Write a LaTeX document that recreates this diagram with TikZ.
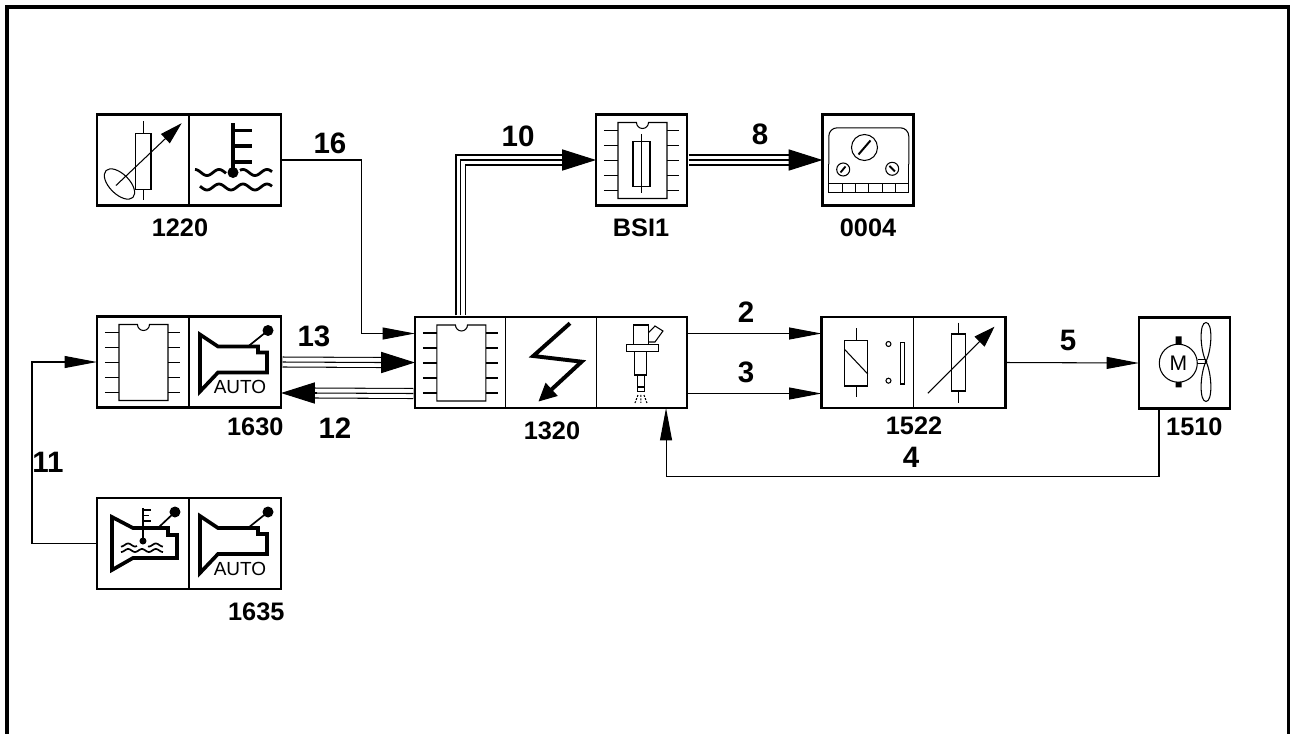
\documentclass[tikz,border=0pt]{standalone}
\usepackage{fontspec}
\setmainfont{Liberation Sans}
\usetikzlibrary{arrows.meta,calc}

\tikzset{
  box/.style={draw, line width=2pt, inner sep=0pt, outer sep=0pt,
    minimum height=2.275cm},
  tag/.style={inner sep=0pt, font=\bfseries\fontsize{18}{20}\selectfont},
  wire/.style={inner sep=0pt, font=\bfseries\fontsize{21}{24}\selectfont},
  sig/.style={-{Triangle[length=23pt,width=8.5pt]}},
  bus/.style={draw=white, line width=6.35pt, line join=miter,
    preaction={draw=black, line width=7.85pt},
    postaction={draw=black, line width=0.75pt}},
  bushead/.style={-{Triangle[length=24pt,width=15pt]}},
  % icons, drawn from the top left corner of a cell
  chip/.pic={
    \draw (22,8) -- (40.5,8) arc[start angle=180, end angle=0, radius=6]
      -- (71,8) -- (71,84) -- (22,84) -- cycle;
    \foreach \y in {16,31,46,61,76}
      \draw (8,\y) -- (22,\y) (71,\y) -- (83,\y);
  },
  fuse/.pic={
    \draw (37,26.7) rectangle (54,72);
    \draw (45.5,19.3) -- (45.5,78.7);
  },
  autohorn/.pic={
    \draw[line width=2.6pt, line join=miter] (11,18) -- (29,30) -- (69,30)
      -- (69,36) -- (78,36) -- (78,56) -- (29,56) -- (11,75) -- cycle;
    \draw[line width=1.2pt] (59,30) -- (79,14);
    \fill (79,14) circle[radius=5.5];
    \node[inner sep=0pt, font=\fontsize{13.5}{14}\selectfont] (-auto)
      at (51,70.5) {AUTO};
  },
  thermohorn/.pic={
    \draw[line width=2.6pt, line join=miter] (15,19) -- (36,30) -- (71,30)
      -- (71,37) -- (80,37) -- (80,60) -- (36,60) -- (15,72) -- cycle;
    \draw[line width=1.2pt] (61,30) -- (78,14);
    \fill (78,14) circle[radius=5.5];
    \draw[line width=1.4pt] (46,10) -- (46,42);
    \draw[line width=1.2pt] (46,12) -- (54,12) (46,17.5) -- (52,17.5)
      (46,23) -- (54,23);
    \fill (46,43) circle[radius=3.5];
    \draw[line width=1.2pt] plot[domain=24:40, samples=20, smooth] (\x,{47-1.5*sin(26*\x)});
    \draw[line width=1.2pt] plot[domain=51:66, samples=20, smooth] (\x,{47-1.5*sin(26*\x)});
    \draw[line width=1.2pt] plot[domain=24:66, samples=40, smooth] (\x,{52.5-1.5*sin(26*\x)});
  },
  coolant/.pic={
    \draw[line width=2.6pt] (44,9) -- (44,58);
    \draw[line width=2.2pt] (44,16) -- (62.5,16) (44,31.5) -- (62.5,31.5)
      (44,47.5) -- (62.5,47.5);
    \fill (44,58) circle[radius=5.5];
    \draw[line width=2pt] plot[domain=6:37, samples=30, smooth] (\x,{58-3*sin(15*\x)});
    \draw[line width=2pt] plot[domain=51:83, samples=30, smooth] (\x,{58-3*sin(15*\x)});
    \draw[line width=2pt] plot[domain=11:83, samples=50, smooth] (\x,{72.5-3*sin(15*\x)});
  },
  potsensor/.pic={
    \draw (38.7,18.7) rectangle (54,75.3);
    \draw (46.3,6.7) -- (46.3,18.7) (46.3,75.3) -- (46.3,86);
    \draw[rotate around={-45:(22.5,69.5)}] (22.5,69.5)
      ellipse[x radius=19, y radius=10];
    \draw[-{Triangle[length=16pt,width=9pt]}] (19,71) -- (84.7,8.7);
  },
  dashboard/.pic={
    \draw[rounded corners=6pt] (6.3,50) -- (6.3,13.3) -- (86.3,13.3) -- (86.3,50);
    \draw (6.3,50) -- (6.3,77.7) -- (86.3,77.7) -- (86.3,50);
    \draw (6.3,68.7) -- (86.3,68.7);
    \foreach \x in {19.7,33,46.3,59.7,73}
      \draw (\x,68.7) -- (\x,77.7);
    \draw (42,33) circle[radius=13];
    \draw[line width=1.4pt] (36,40) -- (48,26);
    \draw (20.7,55) circle[radius=6.5];
    \draw[line width=1.3pt] (18,58) -- (23,52);
    \draw (69.7,54.3) circle[radius=6.5];
    \draw[line width=1.3pt] (67,51.5) -- (72.5,57);
  },
  relay/.pic={
    \draw (23,23.7) rectangle (46.3,69);
    \draw (23,32.3) -- (46.3,57);
    \draw (34.7,11.3) -- (34.7,23.7) (34.7,69) -- (34.7,80.3);
    \draw (67,27) circle[radius=2.5] (67,63.7) circle[radius=2.5];
    \draw (79.3,25.3) rectangle (82.7,67);
  },
  varres/.pic={
    \draw (37.7,17) rectangle (52,74);
    \draw (45,5.7) -- (45,17) (45,74) -- (45,85.7);
    \draw[-{Triangle[length=15pt,width=10pt]}] (14.3,76.3) -- (81,9.7);
  },
  fanmotor/.pic={
    \draw (39.3,45.7) circle[radius=19];
    \node[inner sep=0pt, font=\fontsize{15}{16}\selectfont] (-m) at (39.3,45.7) {M};
    \fill (36.5,19) rectangle (42.5,26.8) (36.5,64.6) rectangle (42.5,70);
    \draw (58.5,42.3) -- (67,42.3) (58.5,46.3) -- (67,46.3);
    \draw (67,44) .. controls (61,32) and (60,5) .. (67,5)
      .. controls (74,5) and (73,32) .. (67,44);
    \draw (67,44) .. controls (61,56) and (60,84) .. (67,84)
      .. controls (74,84) and (73,56) .. (67,44);
    \fill (67,44.3) circle[radius=1.5];
  },
  bolt/.pic={
    \draw[line width=2.8pt, line join=miter, -{Triangle[length=13pt,width=12pt]}]
      (64,6.3) -- (27.3,39) -- (75.7,44.7) -- (32.3,84.7);
  },
  injector/.pic={
    \draw (36.3,8) rectangle (51.3,27.3);
    \draw (51.3,16) -- (58,9) -- (66,14) -- (58,25) -- (51.3,25);
    \draw (29.7,27.3) rectangle (61.3,34.7);
    \draw (38,34.7) rectangle (49.7,58);
    \draw (40.7,58) rectangle (47.3,74.7);
    \draw (40.7,70) -- (47.3,70);
    \draw[dash pattern=on 1.4pt off 1pt] (41,78) -- (38,86) (44,78) -- (44,86)
      (47,78) -- (50,86);
  }
}

\begin{document}
\begin{tikzpicture}[x=0.025cm, y=-0.025cm, line width=0.75pt]
\fill[white] (0,0) rectangle (1290,733);
\useasboundingbox (0,0) rectangle (1290,733);
\draw[line width=2.2pt] (7,740) -- (7,7) -- (1289,7) -- (1289,740);

% boxes
\node[box, minimum width=4.6cm] (b1220) at (189,160) {};
\node[box, minimum width=4.6cm] (b1630) at (189,362) {};
\node[box, minimum width=4.6cm] (b1635) at (189,543.5) {};
\node[box, minimum width=6.8cm] (b1320) at (551,362.5) {};
\node[box, minimum width=2.275cm] (bsi) at (641.5,160) {};
\node[box, minimum width=2.275cm] (b0004) at (868,160) {};
\node[box, minimum width=4.6cm] (b1522) at (913.5,362.5) {};
\node[box, minimum width=2.275cm] (b1510) at (1184.5,363) {};

\foreach \b in {b1220,b1630,b1635,b1522}
  \draw (\b.north) -- (\b.south);
\draw ($(b1320.north west)+(91,0)$) -- ($(b1320.south west)+(91,0)$);
\draw ($(b1320.north west)+(182,0)$) -- ($(b1320.south west)+(182,0)$);

% icons
\pic (i1220a) at (b1220.north west) {potsensor};
\pic (i1220b) at (b1220.north) {coolant};
\pic (i1630a) at (b1630.north west) {chip};
\pic (i1630b) at (b1630.north) {autohorn};
\pic (i1635a) at (b1635.north west) {thermohorn};
\pic (i1635b) at (b1635.north) {autohorn};
\pic (i1320a) at (b1320.north west) {chip};
\pic (i1320b) at ($(b1320.north west)+(91,0)$) {bolt};
\pic (i1320c) at ($(b1320.north west)+(182,0)$) {injector};
\pic (ibsia) at (bsi.north west) {chip};
\pic (ibsib) at (bsi.north west) {fuse};
\pic (i0004) at (b0004.north west) {dashboard};
\pic (i1522a) at (b1522.north west) {relay};
\pic (i1522b) at (b1522.north) {varres};
\pic (i1510) at (b1510.north west) {fanmotor};

% box labels
\node[tag] (t1220) at (180,228) {1220};
\node[tag, anchor=east] (t1630) at (284,427) {1630};
\node[tag, anchor=east] (t1635) at (285,612) {1635};
\node[tag] (t1320) at (552,431) {1320};
\node[tag] (tbsi) at (641,228) {BSI1};
\node[tag] (t0004) at (868,228) {0004};
\node[tag] (t1522) at (914,426) {1522};
\node[tag, anchor=east] (t1510) at (1223,427) {1510};

% single wires
\draw[sig] (b1220.east) -| ($(b1320.west)+(-53,-29)$) -- ($(b1320.west)+(0,-29)$);
\draw[sig] ($(b1320.east)+(0,-29)$) -- ($(b1522.west)+(0,-29)$);
\draw[sig] ($(b1320.east)+(0,31)$) -- ($(b1522.west)+(0,31)$);
\draw[sig] (b1522.east) -- (b1510.west);
\draw[sig] ($(b1510.south west)+(20,0)$) -- ++(0,68) -| ($(b1320.south east)+(-21,0)$);
\draw[sig] (b1635.west) -- ++(-65,0) |- (b1630.west);

% buses
\draw[bus] ($(b1630.east)+(1.5,0)$) -- ($(b1320.west)+(-33,0)$);
\draw[bushead] ($(b1320.west)+(-36,0)$) -- (b1320.west);
\draw[bus] ($(b1320.west)+(-1.5,31)$) -- ($(b1630.east)+(33,31)$);
\draw[bushead] ($(b1630.east)+(36,31)$) -- ($(b1630.east)+(0,31)$);
\draw[bus] ($(b1320.north west)+(46,-1.5)$) |- ($(bsi.west)+(-33,0)$);
\draw[bushead] ($(bsi.west)+(-36,0)$) -- (bsi.west);
\draw[bus] ($(bsi.east)+(1.5,0)$) -- ($(b0004.west)+(-33,0)$);
\draw[bushead] ($(b0004.west)+(-36,0)$) -- (b0004.west);

% wire numbers
\node[wire] (l16) at (330,143) {16};
\node[wire] (l10) at (518,136) {10};
\node[wire] (l8) at (760,134) {8};
\node[wire] (l13) at (314,336) {13};
\node[wire] (l12) at (335,428) {12};
\node[wire] (l2) at (746,312) {2};
\node[wire] (l3) at (746,372) {3};
\node[wire] (l5) at (1068,340) {5};
\node[wire] (l4) at (911,457) {4};
\node[wire] (l11) at (48,462) {11};
\end{tikzpicture}
\end{document}
